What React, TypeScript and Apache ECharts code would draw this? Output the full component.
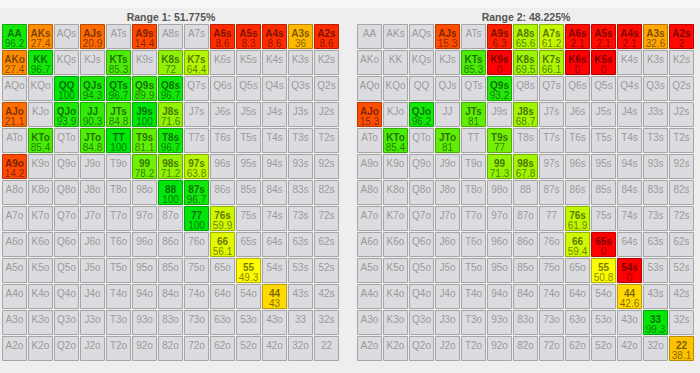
import React, { useEffect, useRef } from "react";
import * as echarts from "echarts";

const ranks = ["A", "K", "Q", "J", "T", "9", "8", "7", "6", "5", "4", "3", "2"];

const title1 = "Range 1: 51.775%";
const title2 = "Range 2: 48.225%";

const range1: [string, number][] = [
  ["AA", 96.2], ["AKs", 27.4], ["AJs", 20.9], ["A9s", 14.4], ["A6s", 8.6], ["A5s", 8.3], ["A4s", 8.6], ["A3s", 36], ["A2s", 8.6],
  ["AKo", 27.4], ["KK", 96.7], ["KTs", 85.3], ["K8s", 72], ["K7s", 64.4],
  ["QQ", 100], ["QJs", 94.3], ["QTs", 96.7], ["Q9s", 89.9], ["Q8s", 96.7],
  ["AJo", 21.1], ["QJo", 93.9], ["JJ", 90.3], ["JTs", 84.8], ["J9s", 100], ["J8s", 71.6],
  ["KTo", 85.4], ["JTo", 84.8], ["TT", 100], ["T9s", 81.1], ["T8s", 96.7],
  ["A9o", 14.2], ["99", 78.2], ["98s", 71.2], ["97s", 63.8],
  ["88", 100], ["87s", 96.7],
  ["77", 100], ["76s", 59.9],
  ["66", 56.1],
  ["55", 49.3],
  ["44", 43],
];

const range2: [string, number][] = [
  ["AJs", 15.3], ["A9s", 6.3], ["A8s", 65.6], ["A7s", 61.2], ["A6s", 2.1], ["A5s", 2.1], ["A4s", 2.1], ["A3s", 32.6], ["A2s", 2],
  ["KTs", 85.3], ["K9s", 0], ["K8s", 69.5], ["K7s", 66.1], ["K6s", 0], ["K5s", 0],
  ["Q9s", 93.2],
  ["AJo", 15.3], ["QJo", 96.2], ["JTs", 81], ["J8s", 68.7],
  ["KTo", 85.4], ["JTo", 81], ["T9s", 77],
  ["99", 71.3], ["98s", 67.8],
  ["76s", 61.9],
  ["66", 59.4], ["65s", 0],
  ["55", 50.8], ["54s", 0],
  ["44", 42.6],
  ["33", 99.3],
  ["22", 38.1],
];

function handName(row: number, col: number) {
  if (row === col) return ranks[row] + ranks[col];
  if (col > row) return ranks[row] + ranks[col] + "s";
  return ranks[col] + ranks[row] + "o";
}

function heat(v: number): [number, number, number] {
  if (v <= 50) return [255, Math.round((255 * v) / 50), 0];
  const t = (v - 50) / 50;
  return [Math.round(255 * (1 - t)), Math.round(252 - 22 * t), Math.round(10 * t)];
}
const rgb = (c: number[], k = 1) => `rgb(${Math.round(c[0] * k)},${Math.round(c[1] * k)},${Math.round(c[2] * k)})`;

const FONT = "'Liberation Sans', Arial, sans-serif";

function buildSeries(range: [string, number][], gridIndex: number) {
  const map = new Map(range);
  const filled: { name: string; value: [number, number, number] }[] = [];
  const empty: { name: string; value: [number, number] }[] = [];
  for (let r = 0; r < 13; r++) {
    for (let c = 0; c < 13; c++) {
      const n = handName(r, c);
      if (map.has(n)) filled.push({ name: n, value: [c, r, map.get(n) as number] });
      else empty.push({ name: n, value: [c, r] });
    }
  }
  const cellBox = (api: any) => {
    const p = api.coord([api.value(0), api.value(1)]);
    const s = api.size([1, 1]);
    const x0 = Math.round(p[0] - s[0] / 2);
    const y0 = Math.round(p[1] - s[1] / 2);
    return { x0, y0, w: s[0], h: s[1] };
  };
  const emptySeries = {
    type: "custom",
    xAxisIndex: gridIndex,
    yAxisIndex: gridIndex,
    data: empty,
    renderItem: (params: any, api: any) => {
      const { x0, y0, w, h } = cellBox(api);
      return {
        type: "group",
        children: [
          {
            type: "rect",
            shape: { x: x0 + 0.5, y: y0 + 0.5, width: w - 2, height: h - 2 },
            style: { fill: "#dcdce0", stroke: "#a6a6a6", lineWidth: 1 },
          },
          {
            type: "text",
            style: {
              text: empty[params.dataIndex].name,
              x: x0 + (w - 1) / 2,
              y: y0 + 9,
              align: "center",
              verticalAlign: "middle",
              fill: "#9a9a9a",
              font: `10px ${FONT}`,
            },
          },
        ],
      };
    },
  };
  const filledSeries = {
    type: "custom",
    xAxisIndex: gridIndex,
    yAxisIndex: gridIndex,
    data: filled,
    renderItem: (params: any, api: any) => {
      const { x0, y0, w, h } = cellBox(api);
      const v = api.value(2);
      const col = heat(v);
      return {
        type: "group",
        children: [
          {
            type: "rect",
            shape: { x: x0 + 0.5, y: y0 + 0.5, width: w - 2, height: h - 2 },
            style: { fill: rgb(col), stroke: rgb(col, 0.72), lineWidth: 1 },
          },
          {
            type: "text",
            style: {
              text: filled[params.dataIndex].name,
              x: x0 + (w - 1) / 2,
              y: y0 + 9,
              align: "center",
              verticalAlign: "middle",
              fill: "rgba(0,0,0,0.55)",
              font: `bold 10px ${FONT}`,
            },
          },
          {
            type: "text",
            style: {
              text: String(v),
              x: x0 + (w - 1) / 2,
              y: y0 + 19,
              align: "center",
              verticalAlign: "middle",
              fill: "rgba(0,0,0,0.5)",
              font: `10px ${FONT}`,
            },
          },
        ],
      };
    },
  };
  return [emptySeries, filledSeries];
}

export default function App() {
  const ref = useRef<HTMLDivElement>(null);
  useEffect(() => {
    if (!ref.current) return;
    const chart = echarts.init(ref.current, null, { renderer: "svg" });
    const axisX = (gi: number) => ({
      type: "category",
      gridIndex: gi,
      data: ranks,
      show: false,
      boundaryGap: true,
    });
    const axisY = (gi: number) => ({
      type: "category",
      gridIndex: gi,
      data: ranks,
      show: false,
      inverse: true,
      boundaryGap: true,
    });
    chart.setOption({
      animation: false,
      backgroundColor: "#eeeeee",
      grid: [
        { left: 2, top: 24, width: 338, height: 338 },
        { left: 357, top: 24, width: 338, height: 338 },
      ],
      xAxis: [axisX(0), axisX(1)],
      yAxis: [axisY(0), axisY(1)],
      graphic: [
        { type: "rect", shape: { x: 0, y: 0, width: 700, height: 8 }, style: { fill: "#f7f7f7" }, silent: true },
        {
          type: "text",
          x: 171,
          y: 17,
          style: { text: title1, align: "center", verticalAlign: "middle", fill: "#555", font: `bold 10.5px ${FONT}` },
        },
        {
          type: "text",
          x: 526,
          y: 17,
          style: { text: title2, align: "center", verticalAlign: "middle", fill: "#555", font: `bold 10.5px ${FONT}` },
        },
      ],
      series: [...buildSeries(range1, 0), ...buildSeries(range2, 1)],
    });
    return () => chart.dispose();
  }, []);
  return <div ref={ref} style={{ position: "fixed", left: 0, top: 0, width: 700, height: 373 }} />;
}
